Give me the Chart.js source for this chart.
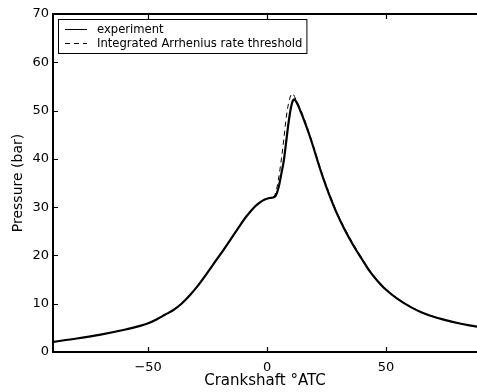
<!DOCTYPE html>
<html>
<head>
<meta charset="utf-8">
<script src="https://cdn.jsdelivr.net/npm/chart.js@4"></script>
<style>
  html, body { margin: 0; padding: 0; background: #fff; }
  #wrap { width: 477px; height: 392px; }
  canvas { display: block; }
</style>
</head>
<body>
<div id="wrap"><canvas id="pChart" width="477" height="392"></canvas></div>
<script>
/* ============================================================
   Cylinder pressure vs crank angle
   ============================================================ */

const FONT = "'DejaVu Sans', 'Liberation Sans', Arial, sans-serif";

// experiment trace
const expAngle = [-90, -80, -70, -60, -53.4, -50, -46.3, -43, -39.4, -36, -32.4, -29, -25.3, -22, -18.4, -15, -11.3, -9, -7, -5, -3, -1, 1, 2.5, 3.5,
  4, 5, 6, 7, 8, 9, 10, 11, 11.5, 12, 13, 14, 15.3, 17.5, 19.5, 21.5, 23.7, 26, 29.3, 32.5, 36.3, 40, 43.3, 47.5, 50, 54.5, 60, 65, 70, 75, 80, 85, 90];
const expPressure = [2.1, 2.8, 3.6, 4.6, 5.4, 5.95, 6.8, 7.7, 8.7, 10.0, 11.8, 13.8, 16.3, 18.6, 21.1, 23.6, 26.3, 27.9, 29.1, 30.2, 31.0, 31.6, 31.9, 32.0, 32.3,
  32.8, 34.5, 37.0, 39.6, 43.5, 47.5, 50.6, 52.2, 52.3, 52.0, 51.1, 49.9, 48.3, 45.3, 42.3, 39.1, 35.8, 32.7, 28.7, 25.4, 22.0, 19.1, 16.6, 14.1, 12.9, 11.1, 9.4, 8.2, 7.3, 6.6, 6.0, 5.5, 5.1];

// model trace (integrated Arrhenius rate threshold)
const modAngle = [-90, -80, -70, -60, -53.4, -50, -46.3, -43, -39.4, -36, -32.4, -29, -25.3, -22, -18.4, -15, -11.3, -9, -7, -5, -3, -1, 1, 2.5, 3,
  4, 5, 6, 7, 8, 9, 10, 10.8, 11.5, 12.5, 13.5, 15.3, 17.5, 19.5, 21.5, 23.7, 26, 29.3, 32.5, 36.3, 40, 43.3, 47.5, 50, 54.5, 60, 65, 70, 75, 80, 85, 90];
const modPressure = [2.1, 2.8, 3.6, 4.6, 5.4, 5.95, 6.8, 7.7, 8.7, 10.0, 11.8, 13.8, 16.3, 18.6, 21.1, 23.6, 26.3, 27.9, 29.1, 30.2, 31.0, 31.6, 31.9, 32.0, 32.2,
  33.8, 36.5, 40.0, 44.0, 48.5, 51.5, 53.2, 53.5, 52.9, 51.9, 50.8, 48.7, 45.6, 42.6, 39.4, 36.1, 33.0, 29.0, 25.7, 22.3, 19.3, 16.8, 14.3, 13.0, 11.2, 9.5, 8.2, 7.3, 6.6, 6.0, 5.5, 5.1];

const xTicks = [-50, 0, 50];
const yTicks = [0, 10, 20, 30, 40, 50, 60, 70];
const seriesLabels = ['experiment', 'Integrated Arrhenius rate threshold'];

const toPts = (xs, ys) => xs.map((x, i) => ({ x, y: ys[i] }));
const fmt = v => (v < 0 ? '\u2212' + Math.abs(v) : String(v));

// Inward ticks + top frame line (MATLAB box style)
const framePlugin = {
  id: 'frame',
  afterDatasetsDraw(chart) {
    const { ctx, chartArea: a, scales: { x, y } } = chart;
    const len = 5;
    ctx.save();
    ctx.strokeStyle = '#000';
    ctx.lineWidth = 2;
    ctx.beginPath();
    ctx.moveTo(a.left - 1, a.top);
    ctx.lineTo(a.right, a.top);
    ctx.stroke();
    ctx.lineWidth = 1.2;
    ctx.beginPath();
    xTicks.forEach(v => {
      const px = Math.round(x.getPixelForValue(v)) + 0.5;
      ctx.moveTo(px, a.bottom); ctx.lineTo(px, a.bottom - len);
      ctx.moveTo(px, a.top); ctx.lineTo(px, a.top + len);
    });
    yTicks.forEach(v => {
      const py = Math.round(y.getPixelForValue(v)) + 0.5;
      ctx.moveTo(a.left, py); ctx.lineTo(a.left + len, py);
    });
    ctx.stroke();
    ctx.restore();
  }
};

// Legend box drawn inside the plot, top-left
const boxLegend = {
  id: 'boxLegend',
  afterDraw(chart) {
    const { ctx, chartArea: a } = chart;
    const bx = a.left + 5, by = a.top + 5;
    ctx.save();
    ctx.font = `11.6px ${FONT}`;
    const textX = bx + 39;
    const w = Math.max(...seriesLabels.map(t => ctx.measureText(t).width)) + 43;
    const h = 34;
    ctx.fillStyle = '#fff';
    ctx.fillRect(bx, by, w, h);
    ctx.strokeStyle = '#000';
    ctx.lineWidth = 1;
    ctx.strokeRect(bx + 0.5, by + 0.5, w, h);
    seriesLabels.forEach((t, i) => {
      const ds = chart.data.datasets[i];
      const ly = Math.round(by + 10 + i * 14) + 0.5;
      ctx.beginPath();
      ctx.setLineDash(ds.borderDash || []);
      ctx.lineWidth = 1;
      ctx.moveTo(bx + 7, ly);
      ctx.lineTo(bx + 29, ly);
      ctx.stroke();
      ctx.setLineDash([]);
      ctx.fillStyle = '#000';
      ctx.textBaseline = 'middle';
      ctx.fillText(t, textX, ly);
    });
    ctx.restore();
  }
};

new Chart(document.getElementById('pChart').getContext('2d'), {
  type: 'line',
  data: {
    datasets: [{
      label: seriesLabels[0],
      data: toPts(expAngle, expPressure),
      borderColor: '#000',
      borderWidth: 2.2,
      pointRadius: 0,
      cubicInterpolationMode: 'monotone'
    }, {
      label: seriesLabels[1],
      data: toPts(modAngle, modPressure),
      borderColor: '#000',
      borderWidth: 1,
      borderDash: [5, 4],
      pointRadius: 0,
      cubicInterpolationMode: 'monotone'
    }]
  },
  options: {
    responsive: false,
    animation: false,
    layout: { padding: { top: 14, right: 0, left: 0, bottom: 0 } },
    plugins: { legend: { display: false }, tooltip: { enabled: false } },
    scales: {
      x: {
        type: 'linear',
        min: -90,
        max: 88.2,
        afterBuildTicks: s => { s.ticks = xTicks.map(v => ({ value: v })); },
        afterFit: s => { s.height = 40; },
        grid: { display: false, drawTicks: false },
        border: { display: true, color: '#000', width: 2 },
        ticks: { autoSkip: false, maxRotation: 0, color: '#000', padding: 8, font: { family: FONT, size: 13 }, callback: v => fmt(v) },
        title: { display: true, text: 'Crankshaft \u00b0ATC', color: '#000', font: { family: FONT, size: 15 }, padding: { top: 0, bottom: 2 } }
      },
      y: {
        min: 0,
        max: 70,
        afterBuildTicks: s => { s.ticks = yTicks.map(v => ({ value: v })); },
        afterFit: s => { s.width = 53; },
        grid: { display: false, drawTicks: false },
        border: { display: true, color: '#000', width: 2 },
        ticks: { color: '#000', padding: 4, font: { family: FONT, size: 13 }, callback: v => fmt(v) },
        title: { display: true, text: 'Pressure (bar)', color: '#000', font: { family: FONT, size: 14 }, padding: { top: 10, bottom: 0 } }
      }
    }
  },
  plugins: [framePlugin, boxLegend]
});
</script>
</body>
</html>
